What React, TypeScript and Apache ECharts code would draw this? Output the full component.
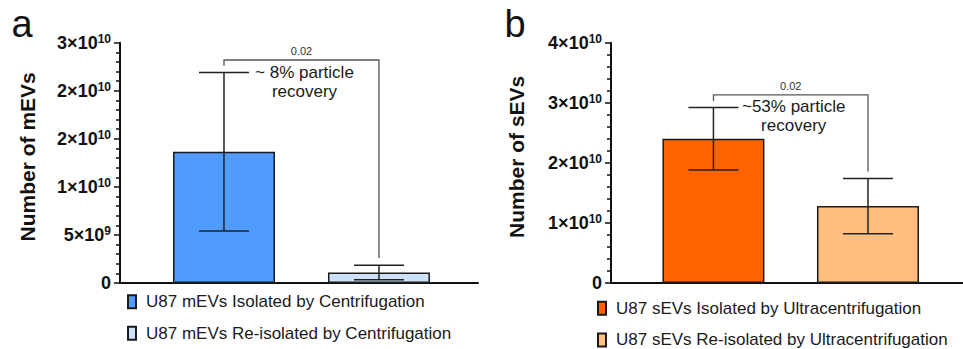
import React, { useEffect, useRef } from "react";
import * as echarts from "echarts";

const FONT = "'Liberation Sans', Arial, sans-serif";

// Panel a (mEVs)
const leftCategories = [
  "U87 mEVs Isolated by Centrifugation",
  "U87 mEVs Re-isolated by Centrifugation",
];
const leftPositions = [1, 2];
const leftMeans = [13.65e9, 1.1e9];
const leftSD = [8.25e9, 0.75e9];
const leftColors = ["#509cfe", "#cde2f9"];
const leftTickLabels: [string, string][] = [
  ["0", ""],
  ["5×10", "9"],
  ["1×10", "10"],
  ["2×10", "10"],
  ["2×10", "10"],
  ["3×10", "10"],
];
// [level, left drop end, right drop end]
const leftBracket = [23.2e9, 22.6e9, 2.6e9];
const leftPValue = "0.02";
const leftRecovery = "~ 8% particle\nrecovery";

// Panel b (sEVs)
const rightCategories = [
  "U87 sEVs Isolated by Ultracentrifugation",
  "U87 sEVs Re-isolated by Ultracentrifugation",
];
const rightPositions = [1, 2];
const rightMeans = [24.0e9, 12.8e9];
const rightSD = [5.2e9, 4.6e9];
const rightColors = ["#ff6200", "#ffc07f"];
const rightTickLabels: [string, string][] = [
  ["0", ""],
  ["1×10", "10"],
  ["2×10", "10"],
  ["3×10", "10"],
  ["4×10", "10"],
];
const rightBracket = [31.3e9, 30.3e9, 18.55e9];
const rightPValue = "0.02";
const rightRecovery = "~53% particle\nrecovery";

const richLabel = {
  b: { fontSize: 18, fontWeight: "bold", fontFamily: FONT, color: "#111", lineHeight: 20 },
  s: { fontSize: 12, fontWeight: "bold", fontFamily: FONT, color: "#111", verticalAlign: "top", lineHeight: 12 },
};

function makeYAxis(gridIndex: number, max: number, interval: number, labels: [string, string][], name: string, nameGap: number) {
  return {
    type: "value",
    gridIndex,
    min: 0,
    max,
    interval,
    name,
    nameLocation: "middle",
    nameGap,
    nameRotate: 90,
    nameTextStyle: { fontSize: 21, fontWeight: "bold", fontFamily: FONT, color: "#111", padding: [0, 0, 0, 12] },
    axisLine: { show: true, lineStyle: { color: "#111", width: 2 } },
    axisTick: { show: true, length: 6, lineStyle: { color: "#111", width: 1.5 } },
    minorTick: { show: true, splitNumber: 5, length: 4, lineStyle: { color: "#111", width: 1.5 } },
    splitLine: { show: false },
    minorSplitLine: { show: false },
    axisLabel: {
      margin: 9,
      formatter: (_v: number, idx: number) => {
        const [m, e] = labels[idx] || ["", ""];
        return e ? `{b|${m}}{s|${e}}` : `{b|${m}}`;
      },
      rich: richLabel,
    },
  };
}

function makeXAxis(gridIndex: number, min: number, max: number) {
  return {
    type: "value",
    gridIndex,
    min,
    max,
    axisLine: { show: true, onZero: false, lineStyle: { color: "#111", width: 2 } },
    axisTick: { show: false },
    axisLabel: { show: false },
    splitLine: { show: false },
  };
}

function barSeries(name: string, x: number, y: number, color: string, axisIndex: number) {
  return {
    type: "bar",
    name,
    xAxisIndex: axisIndex,
    yAxisIndex: axisIndex,
    barWidth: 102,
    barGap: "-100%",
    data: [[x, y]],
    itemStyle: { color, borderColor: "#1a1a1a", borderWidth: 1.5 },
  };
}

function errorSeries(positions: number[], means: number[], sds: number[], axisIndex: number) {
  return {
    type: "custom",
    xAxisIndex: axisIndex,
    yAxisIndex: axisIndex,
    clip: false,
    z: 5,
    data: positions.map((p, i) => [p, means[i] - sds[i], means[i] + sds[i]]),
    renderItem: (_params: any, api: any) => {
      const x = api.value(0);
      const lo = api.coord([x, api.value(1)]);
      const hi = api.coord([x, api.value(2)]);
      const half = 25;
      const style = { stroke: "#222", lineWidth: 1.5 };
      return {
        type: "group",
        children: [
          { type: "line", shape: { x1: lo[0], y1: lo[1], x2: hi[0], y2: hi[1] }, style },
          { type: "line", shape: { x1: lo[0] - half, y1: lo[1], x2: lo[0] + half, y2: lo[1] }, style },
          { type: "line", shape: { x1: hi[0] - half, y1: hi[1], x2: hi[0] + half, y2: hi[1] }, style },
        ],
      };
    },
  };
}

function bracketSeries(positions: number[], bracket: number[], p: string, note: string, axisIndex: number) {
  return {
    type: "custom",
    xAxisIndex: axisIndex,
    yAxisIndex: axisIndex,
    clip: false,
    z: 6,
    data: [[positions[0], positions[1], bracket[0], bracket[1], bracket[2]]],
    renderItem: (_params: any, api: any) => {
      const a = api.coord([api.value(0), api.value(3)]);
      const b = api.coord([api.value(0), api.value(2)]);
      const c = api.coord([api.value(1), api.value(2)]);
      const d = api.coord([api.value(1), api.value(4)]);
      const mid = (b[0] + c[0]) / 2;
      return {
        type: "group",
        children: [
          {
            type: "polyline",
            shape: { points: [a, b, c, d] },
            style: { stroke: "#555", lineWidth: 1.3, fill: null },
          },
          {
            type: "text",
            x: mid,
            y: b[1] - 9,
            style: { text: p, fontSize: 11, fontFamily: FONT, fill: "#333", align: "center", verticalAlign: "middle" },
          },
          {
            type: "text",
            x: mid + 3,
            y: b[1] + 21.5,
            style: {
              text: note,
              fontSize: 17,
              lineHeight: 19,
              fontFamily: FONT,
              fill: "#1a1a1a",
              align: "center",
              verticalAlign: "middle",
            },
          },
        ],
      };
    },
  };
}

function legend(data: string[], left: number, top: number) {
  return {
    orient: "vertical",
    left,
    top,
    height: 60,
    padding: 0,
    data,
    icon: "rect",
    itemWidth: 8,
    itemHeight: 13,
    itemGap: 14.6,
    selectedMode: false,
    textStyle: { fontSize: 17, lineHeight: 17, fontFamily: FONT, color: "#1a1a1a", padding: [0, 0, 0, 5] },
  };
}

export default function App() {
  const ref = useRef<HTMLDivElement>(null);
  useEffect(() => {
    if (!ref.current) return;
    const chart = echarts.init(ref.current, undefined, { renderer: "svg" });
    chart.setOption({
      animation: false,
      backgroundColor: "#ffffff",
      grid: [
        { left: 120, top: 42.7, width: 358, height: 240.3 },
        { left: 611, top: 42.7, width: 352, height: 240.3 },
      ],
      xAxis: [makeXAxis(0, 0.329, 2.639), makeXAxis(1, 0.337, 2.615)],
      yAxis: [
        makeYAxis(0, 2.5e10, 5e9, leftTickLabels, "Number of mEVs", 82),
        makeYAxis(1, 4e10, 1e10, rightTickLabels, "Number of sEVs", 84),
      ],
      legend: [legend(leftCategories, 127, 293.2), legend(rightCategories, 597, 299.8)],
      graphic: [
        { type: "text", x: 22, y: 43, style: { text: "a", fontSize: 38, fontFamily: FONT, fill: "#111", align: "center", verticalAlign: "bottom" } },
        { type: "text", x: 515, y: 43, style: { text: "b", fontSize: 38, fontFamily: FONT, fill: "#111", align: "center", verticalAlign: "bottom" } },
      ],
      series: [
        ...leftCategories.map((n, i) => barSeries(n, leftPositions[i], leftMeans[i], leftColors[i], 0)),
        ...rightCategories.map((n, i) => barSeries(n, rightPositions[i], rightMeans[i], rightColors[i], 1)),
        errorSeries(leftPositions, leftMeans, leftSD, 0),
        errorSeries(rightPositions, rightMeans, rightSD, 1),
        bracketSeries(leftPositions, leftBracket, leftPValue, leftRecovery, 0),
        bracketSeries(rightPositions, rightBracket, rightPValue, rightRecovery, 1),
      ],
    });
    return () => chart.dispose();
  }, []);
  return (
    <div
      ref={ref}
      style={{ position: "fixed", left: 0, top: 0, width: 963, height: 349, background: "#fff" }}
    />
  );
}
